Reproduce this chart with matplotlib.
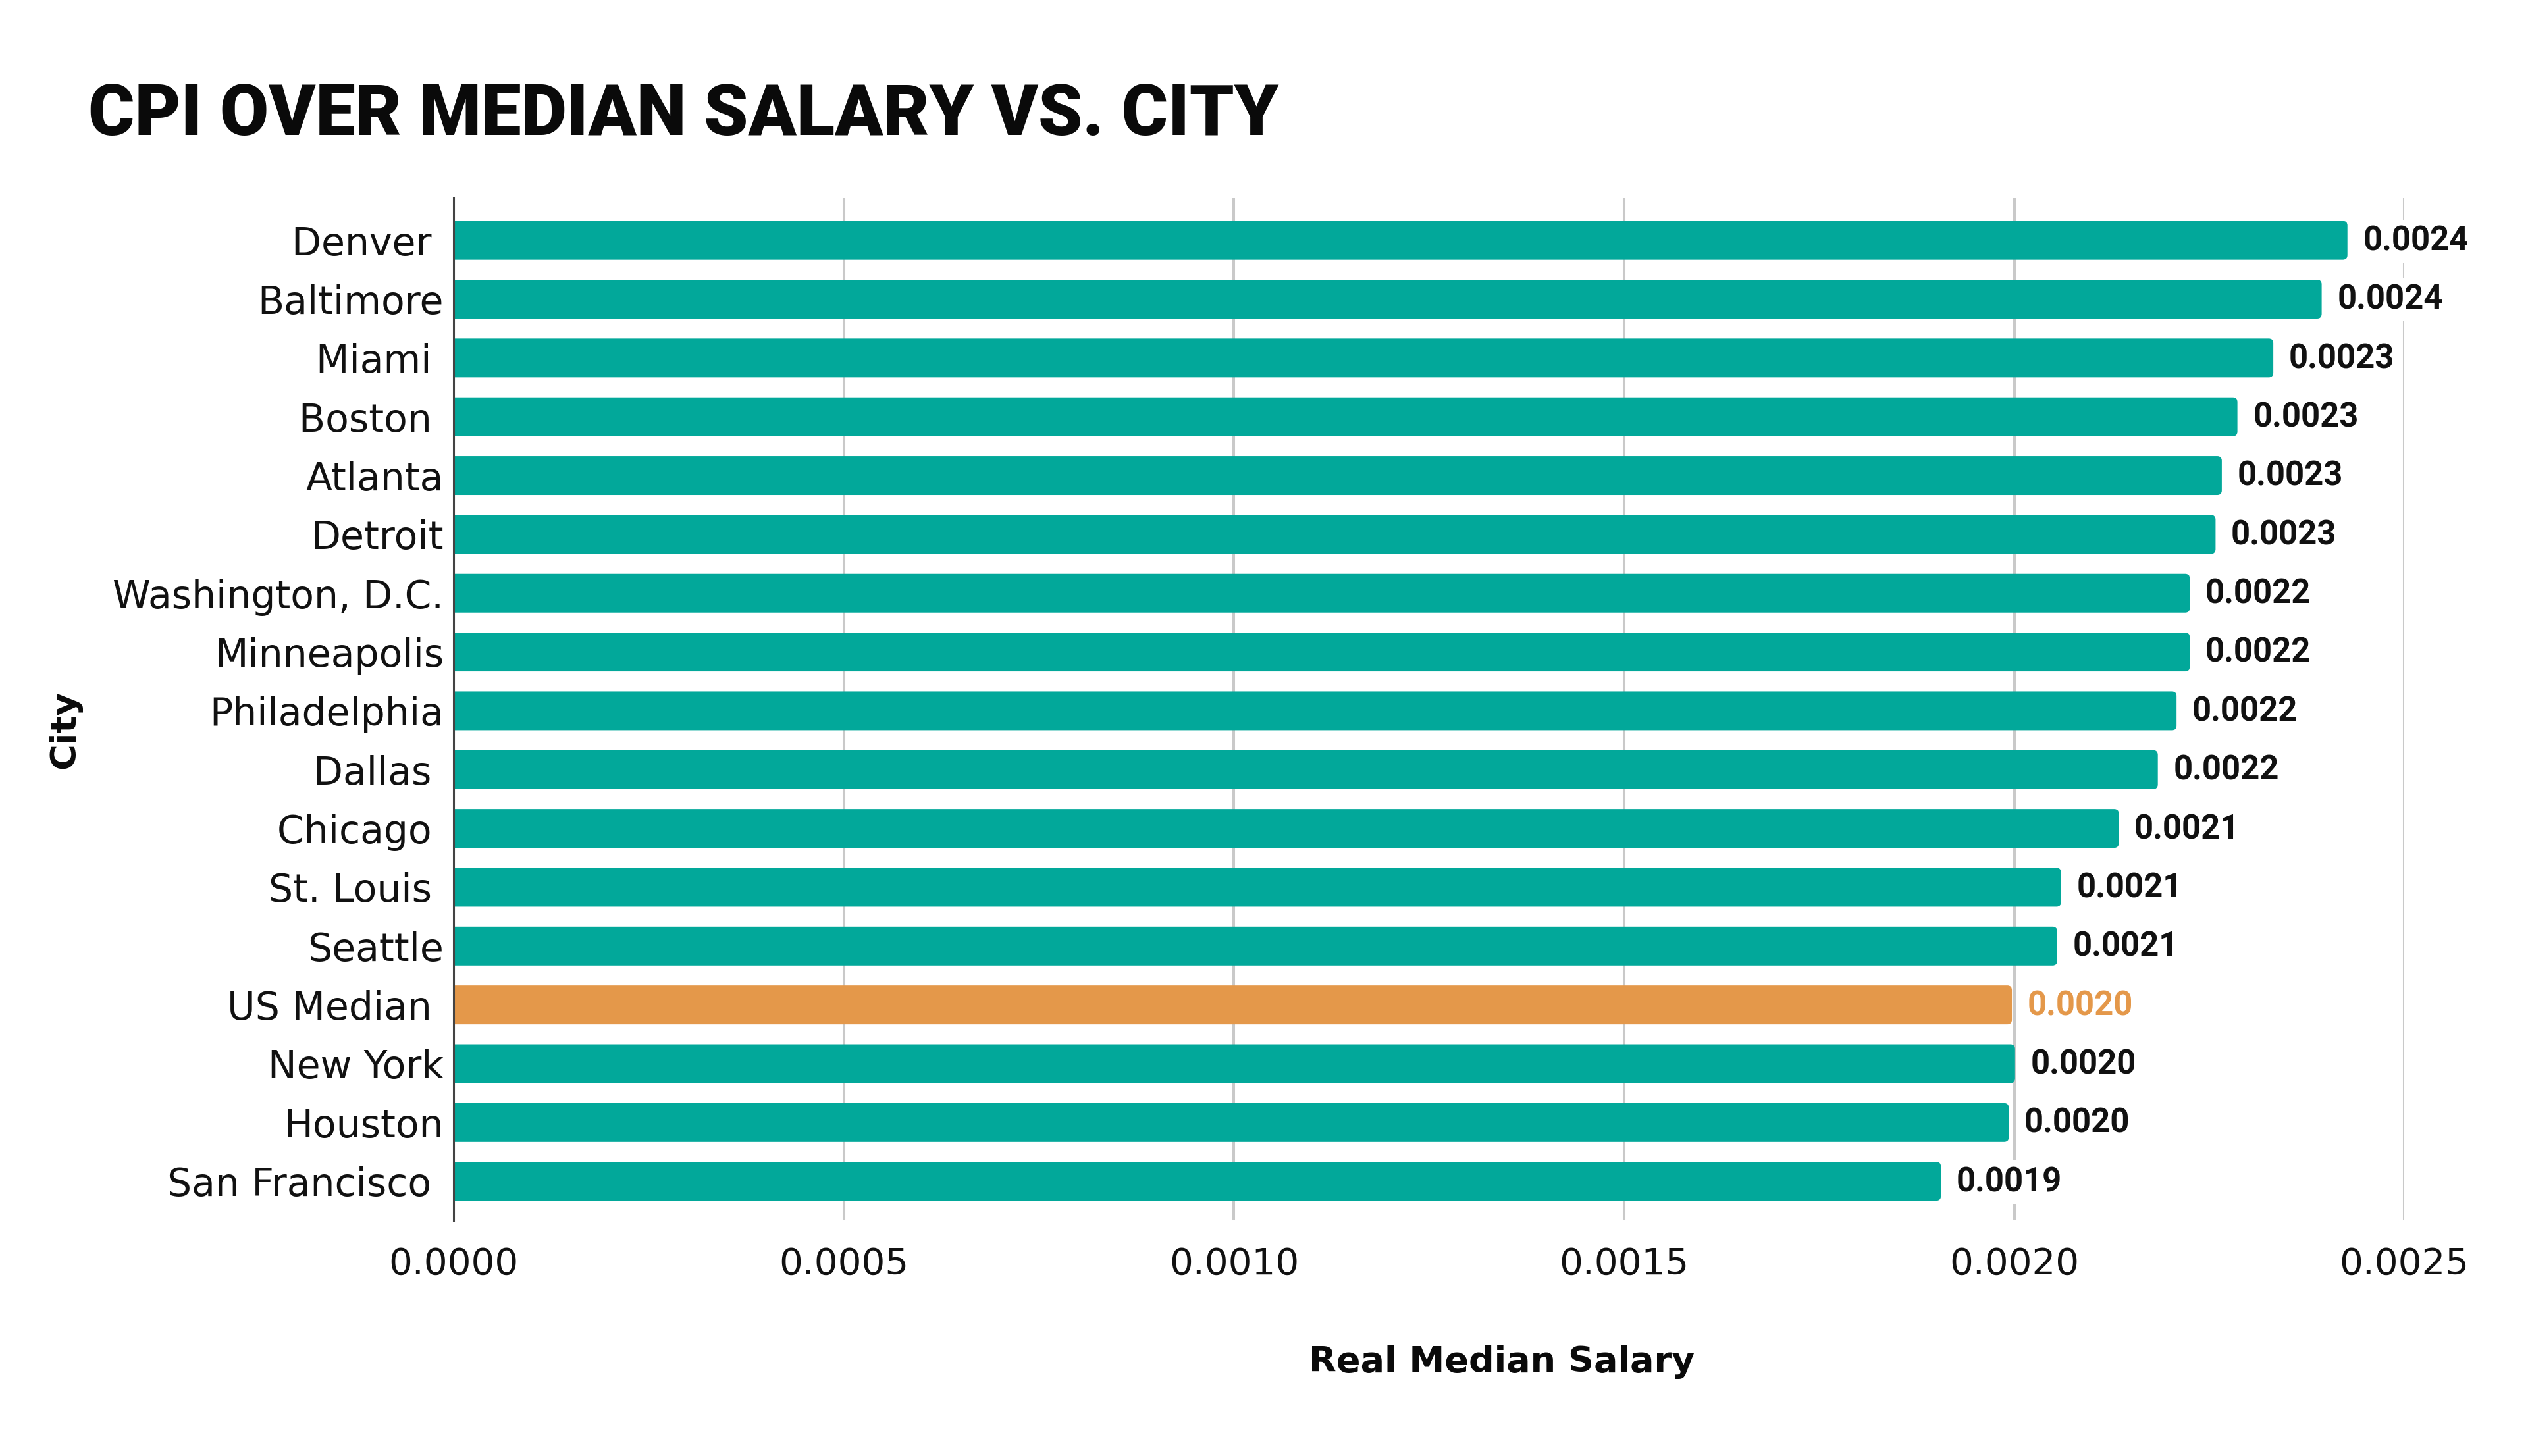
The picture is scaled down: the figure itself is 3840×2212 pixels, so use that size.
import matplotlib
matplotlib.use("Agg")
import matplotlib.pyplot as plt
from matplotlib.patches import FancyBboxPatch
import numpy as np

cities = ["Denver ", "Baltimore", "Miami ", "Boston ", "Atlanta", "Detroit",
          "Washington, D.C.", "Minneapolis", "Philadelphia", "Dallas ", "Chicago ",
          "St. Louis ", "Seattle", "US Median ", "New York", "Houston", "San Francisco "]
values = [0.002427, 0.002394, 0.002332, 0.002286, 0.002266, 0.002258,
          0.002225, 0.002225, 0.002208, 0.002184, 0.002134,
          0.002060, 0.002055, 0.001997, 0.002001, 0.001993, 0.001906]
highlight = "US Median "
xticks = [0.0, 0.0005, 0.0010, 0.0015, 0.0020, 0.0025]

TEAL = "#02A89A"
ORANGE = "#E4984A"

fig = plt.figure(figsize=(38.4, 22.12), dpi=100)
ax = fig.add_axes([0.1795, 0.162, 0.7716, 0.702])

colors = [ORANGE if c == highlight else TEAL for c in cities]
y = np.arange(len(cities))
ax.set_ylim(len(cities) - 0.34, -0.72)
ax.set_xlim(0, 0.0025)

bars = ax.barh(y, values, height=0.66, color=colors, zorder=3)

# round bar corners (radius in pixels converted to data units)
fig.canvas.draw()
p0 = ax.transData.transform((0, 0))
p1 = ax.transData.transform((1e-3, 1))
px_per_x = abs(p1[0] - p0[0]) / 1e-3
px_per_y = abs(p1[1] - p0[1])
r_px = 7
rx = r_px / px_per_x
aspect = (1 / px_per_y) / (1 / px_per_x)
for b in bars:
    b.set_visible(False)
    fb = FancyBboxPatch((b.get_x() - rx * 2, b.get_y()), b.get_width() + rx * 2, b.get_height(),
                        boxstyle=f"round,pad=0,rounding_size={rx}", mutation_aspect=aspect,
                        fc=b.get_facecolor(), ec="none", zorder=3)
    ax.add_patch(fb)

for b, v, c in zip(bars, values, colors):
    ax.annotate(f"{v:.4f}", xy=(b.get_width(), b.get_y() + b.get_height() / 2),
                xytext=(17, -1), textcoords="offset points", ha="left", va="center",
                fontsize=36.5, fontweight="bold", family=["Roboto", "DejaVu Sans"],
                color=(c if c == ORANGE else "#111111"), zorder=4,
                bbox=dict(boxstyle="square,pad=0.15", fc="white", ec="none"))

ax.set_yticks(y)
ax.set_yticklabels(cities, fontsize=42, family="DejaVu Sans", color="#111111")
ax.set_xticks(xticks)
ax.set_xticklabels([f"{t:.4f}" for t in xticks], fontsize=40.5, family="DejaVu Sans", color="#111111")
ax.tick_params(axis="y", length=0, pad=11)
ax.tick_params(axis="x", length=0, pad=29)

ax.grid(axis="x", color="#c9c9c9", linewidth=2.9, zorder=0)
ax.set_axisbelow(True)
for s in ["top", "right", "bottom"]:
    ax.spines[s].set_visible(False)
ax.spines["left"].set_color("#444444")
ax.spines["left"].set_linewidth(2.2)
ax.spines["left"].set_zorder(5)

fig.text(0.035, 0.9073, "CPI OVER MEDIAN SALARY VS. CITY", fontsize=77.5,
         fontweight="black", family=["Roboto", "DejaVu Sans"], ha="left", va="baseline",
         color="#0a0a0a")
fig.text(0.594, 0.0579, "Real Median Salary", fontsize=39, fontweight="bold",
         family="DejaVu Sans", ha="center", va="baseline", color="#0a0a0a")
fig.text(0.0255, 0.499, "City", fontsize=39, fontweight="bold", rotation=90,
         family="DejaVu Sans", ha="center", va="center", color="#0a0a0a")

fig.savefig("out.png", dpi=100, facecolor="white")
